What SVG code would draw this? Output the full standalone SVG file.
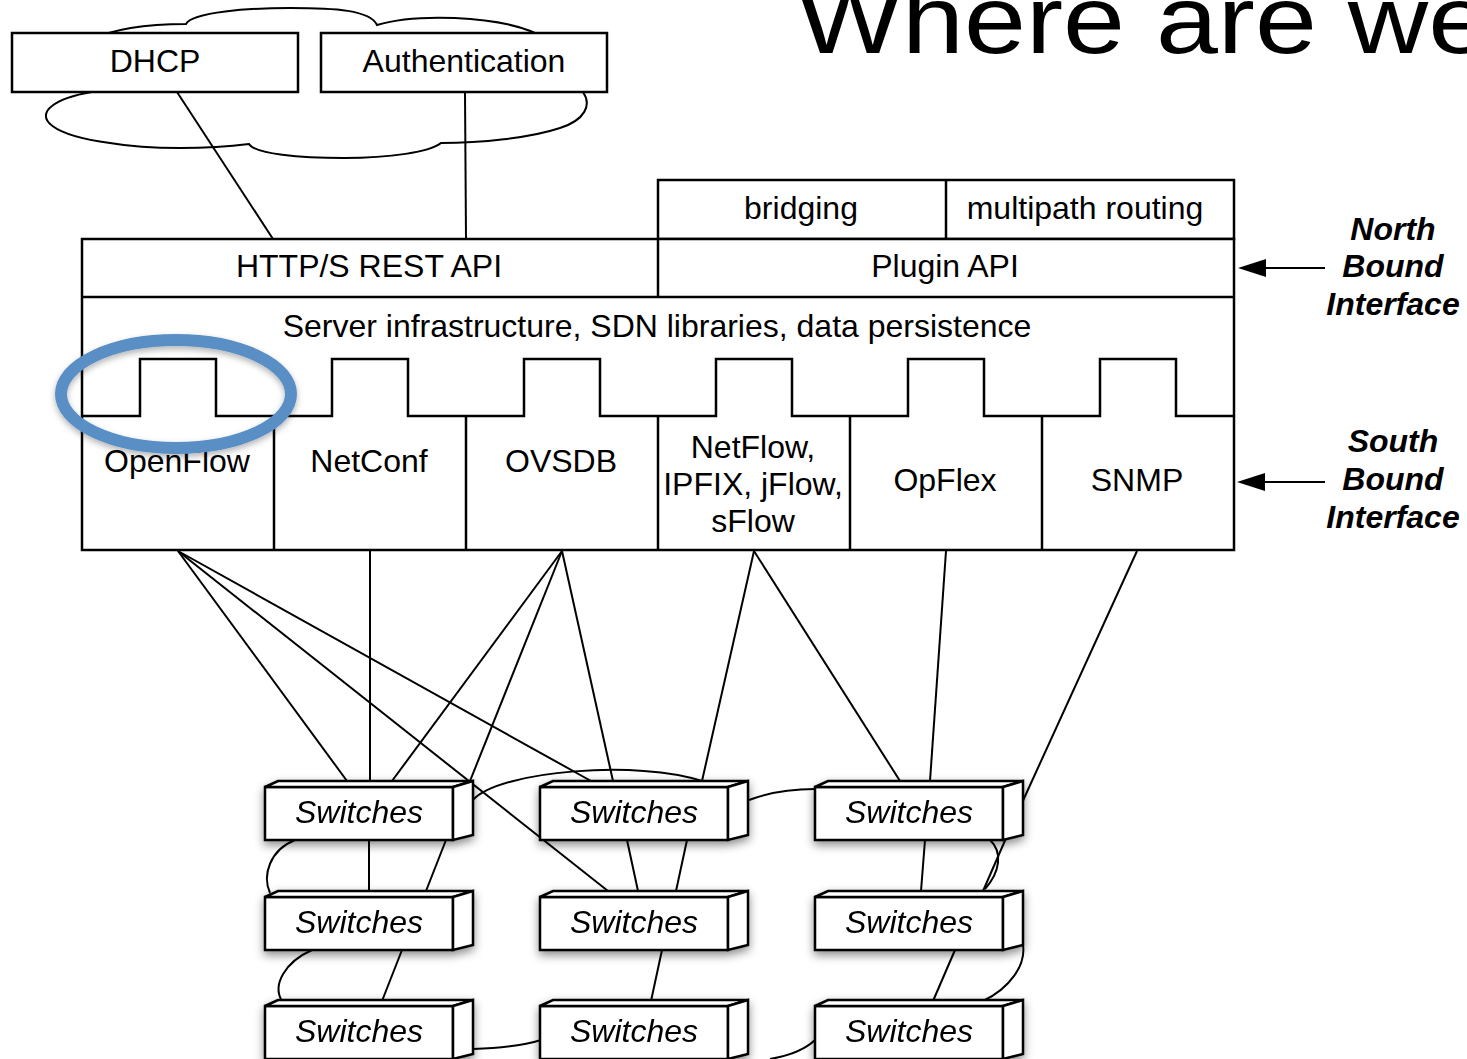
<svg xmlns="http://www.w3.org/2000/svg" width="1467" height="1059" viewBox="0 0 1467 1059">
<style>
.bx{fill:#fff;stroke:#000;stroke-width:2.5}
.ln{fill:none;stroke:#000;stroke-width:2}
.t{font-family:"Liberation Sans",Arial,sans-serif;font-size:32px;text-anchor:middle;fill:#000}
.it{font-style:italic}
.bi{font-weight:bold;font-style:italic}
.title{font-family:"Liberation Sans",Arial,sans-serif;font-size:96px;fill:#000}
</style>
<defs>
<filter id="sh" x="-20%" y="-30%" width="140%" height="170%">
<feDropShadow dx="0" dy="4" stdDeviation="5" flood-color="#000" flood-opacity="0.45"/>
</filter>
<filter id="sh2" x="-20%" y="-30%" width="140%" height="170%">
<feDropShadow dx="0" dy="3" stdDeviation="3" flood-color="#000" flood-opacity="0.3"/>
</filter>
<g id="sw">
<rect class="bx" x="0" y="0" width="188" height="53"/>
<polygon class="bx" points="0,0 13,-6 208,-6 188,0"/>
<polygon class="bx" points="188,0 208,-6 208,48 188,53"/>
</g>
<marker id="ah" viewBox="0 0 28 20" refX="0" refY="10" markerWidth="28" markerHeight="20" markerUnits="userSpaceOnUse" orient="auto">
<path d="M0,1 L28,10 L0,19 Z" fill="#000"/>
</marker>
</defs>
<rect width="1467" height="1059" fill="#fff"/>

<text class="title" transform="translate(797,53) scale(1.16,1)">Where are we</text>

<g id="cloud">
<path class="ln" d="M 90 40 C 115 28, 150 24, 186 24 C 192 12, 250 8, 290 8 C 335 8, 370 10, 377 25 C 400 18, 430 17, 455 18 C 500 20, 530 28, 548 40 L 583 92 C 592 105, 585 120, 560 128 C 530 138, 480 143, 441 143 C 430 152, 390 158, 344 158 C 300 158, 255 154, 249 144 C 210 149, 150 150, 110 143 C 50 135, 36 118, 52 106 C 62 98, 80 94, 92 92 Z"/>
</g>

<g id="connectors">
<line class="ln" x1="177" y1="92" x2="273" y2="239"/>
<line class="ln" x1="465" y1="92" x2="466" y2="239"/>
<line class="ln" x1="178" y1="551" x2="347" y2="781"/>
<line class="ln" x1="178" y1="551" x2="608" y2="891"/>
<line class="ln" x1="178" y1="551" x2="591" y2="781"/>
<line class="ln" x1="370" y1="551" x2="370" y2="781"/>
<line class="ln" x1="562" y1="551" x2="392" y2="781"/>
<line class="ln" x1="562" y1="551" x2="470" y2="781"/>
<line class="ln" x1="562" y1="551" x2="613" y2="781"/>
<line class="ln" x1="754" y1="551" x2="702" y2="781"/>
<line class="ln" x1="754" y1="551" x2="900" y2="781"/>
<line class="ln" x1="946" y1="551" x2="930" y2="781"/>
<line class="ln" x1="1137" y1="551" x2="1021" y2="805"/>
<line class="ln" x1="369" y1="840" x2="369" y2="891"/>
<line class="ln" x1="446" y1="840" x2="426" y2="891"/>
<path class="ln" d="M 295 840 C 270 850, 262 875, 270 893"/>
<line class="ln" x1="402" y1="950" x2="382" y2="1001"/>
<path class="ln" d="M 312 950 C 285 962, 272 985, 282 1001"/>
<line class="ln" x1="627" y1="840" x2="638" y2="891"/>
<line class="ln" x1="687" y1="840" x2="676" y2="891"/>
<line class="ln" x1="662" y1="950" x2="651" y2="1001"/>
<line class="ln" x1="925" y1="840" x2="921" y2="891"/>
<line class="ln" x1="1007" y1="836" x2="983" y2="891"/>
<path class="ln" d="M 990 840 C 1003 852, 1000 872, 985 889"/>
<line class="ln" x1="955" y1="950" x2="933" y2="1001"/>
<path class="ln" d="M 1023 945 C 1026 965, 1010 988, 983 1001"/>
<path class="ln" d="M 473 800 C 500 770, 640 760, 702 781"/>
<path class="ln" d="M 749 800 C 770 792, 795 789, 815 789"/>
<path class="ln" d="M 473 1049 C 500 1048, 525 1045, 541 1040"/>
<path class="ln" d="M 770 1059 Q 800 1054 815 1040"/>
<line class="ln" x1="1325" y1="268" x2="1266" y2="268" marker-end="url(#ah)"/>
<line class="ln" x1="1325" y1="482" x2="1265" y2="482" marker-end="url(#ah)"/>
</g>

<g id="dhcp">
<rect class="bx" x="12" y="33" width="286" height="59"/>
<text class="t" x="155" y="72">DHCP</text>
</g>
<g id="authentication">
<rect class="bx" x="321" y="33" width="286" height="59"/>
<text class="t" x="464" y="72">Authentication</text>
</g>

<g id="controller">
<rect class="bx" x="658" y="180" width="576" height="59"/>
<line class="ln" x1="946" y1="180" x2="946" y2="239" style="stroke-width:2.5"/>
<rect class="bx" x="82" y="239" width="1152" height="311"/>
<line class="ln" x1="82" y1="297" x2="1234" y2="297" style="stroke-width:2.5"/>
<line class="ln" x1="658" y1="239" x2="658" y2="297" style="stroke-width:2.5"/>
<polyline class="ln" style="stroke-width:2.5" points="82,416 140,416 140,359 216,359 216,416 332,416 332,359 408,359 408,416 524,416 524,359 600,359 600,416 716,416 716,359 792,359 792,416 908,416 908,359 984,359 984,416 1100,416 1100,359 1176,359 1176,416 1234,416"/>
<line class="ln" x1="274" y1="416" x2="274" y2="550" style="stroke-width:2.5"/>
<line class="ln" x1="466" y1="416" x2="466" y2="550" style="stroke-width:2.5"/>
<line class="ln" x1="658" y1="416" x2="658" y2="550" style="stroke-width:2.5"/>
<line class="ln" x1="850" y1="416" x2="850" y2="550" style="stroke-width:2.5"/>
<line class="ln" x1="1042" y1="416" x2="1042" y2="550" style="stroke-width:2.5"/>
<text class="t" x="801" y="219">bridging</text>
<text class="t" x="1085" y="219">multipath routing</text>
<text class="t" x="369" y="277">HTTP/S REST API</text>
<text class="t" x="945" y="277">Plugin API</text>
<text class="t" x="657" y="337">Server infrastructure, SDN libraries, data persistence</text>
<text class="t" x="177" y="472">OpenFlow</text>
<text class="t" x="369" y="472">NetConf</text>
<text class="t" x="561" y="472">OVSDB</text>
<text class="t" x="753" y="458">NetFlow,</text>
<text class="t" x="753" y="495">IPFIX, jFlow,</text>
<text class="t" x="753" y="532">sFlow</text>
<text class="t" x="945" y="491">OpFlex</text>
<text class="t" x="1137" y="491">SNMP</text>
</g>

<g id="openflow-highlight">
<ellipse cx="176" cy="394" rx="115" ry="54" fill="none" stroke="#5a8fc6" stroke-width="12" filter="url(#sh2)"/>
</g>

<g id="north-label">
<text class="t bi" x="1393" y="240">North</text>
<text class="t bi" x="1393" y="277">Bound</text>
<text class="t bi" x="1393" y="315">Interface</text>
</g>
<g id="south-label">
<text class="t bi" x="1393" y="452">South</text>
<text class="t bi" x="1393" y="490">Bound</text>
<text class="t bi" x="1393" y="528">Interface</text>
</g>

<g id="switch-1-1" filter="url(#sh)"><use href="#sw" x="265" y="787"/><text class="t it" x="359" y="823">Switches</text></g>
<g id="switch-1-2" filter="url(#sh)"><use href="#sw" x="540" y="787"/><text class="t it" x="634" y="823">Switches</text></g>
<g id="switch-1-3" filter="url(#sh)"><use href="#sw" x="815" y="787"/><text class="t it" x="909" y="823">Switches</text></g>
<g id="switch-2-1" filter="url(#sh)"><use href="#sw" x="265" y="897"/><text class="t it" x="359" y="933">Switches</text></g>
<g id="switch-2-2" filter="url(#sh)"><use href="#sw" x="540" y="897"/><text class="t it" x="634" y="933">Switches</text></g>
<g id="switch-2-3" filter="url(#sh)"><use href="#sw" x="815" y="897"/><text class="t it" x="909" y="933">Switches</text></g>
<g id="switch-3-1" filter="url(#sh)"><use href="#sw" x="265" y="1006"/><text class="t it" x="359" y="1042">Switches</text></g>
<g id="switch-3-2" filter="url(#sh)"><use href="#sw" x="540" y="1006"/><text class="t it" x="634" y="1042">Switches</text></g>
<g id="switch-3-3" filter="url(#sh)"><use href="#sw" x="815" y="1006"/><text class="t it" x="909" y="1042">Switches</text></g>
</svg>
